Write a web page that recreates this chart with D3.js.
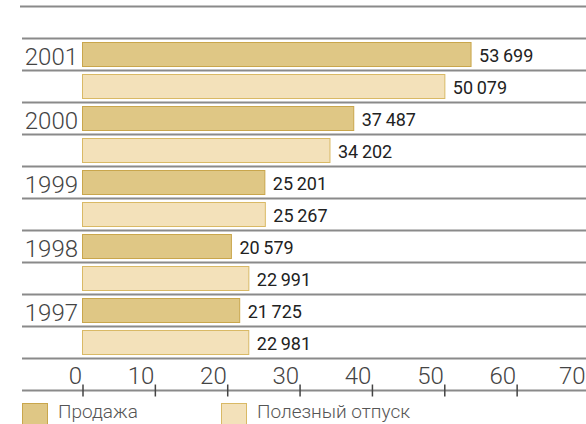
<!DOCTYPE html>
<html><head><meta charset="utf-8">
<script src="https://cdn.jsdelivr.net/npm/d3@7"></script>
<style>
html,body{margin:0;padding:0;background:#fff;}
svg{display:block;}
text{font-family:Roboto,"Liberation Sans",sans-serif;}
</style></head>
<body><svg id="chart" width="586" height="424"></svg>
<script>
const years = ["2001","2000","1999","1998","1997"];
const seriesNames = ["Продажа","Полезный отпуск"];
const sales = [53699, 37487, 25201, 20579, 21725];
const useful = [50079, 34202, 25267, 22991, 22981];
const tickValues = [0,10,20,30,40,50,60,70];

const fills = ["#dfc785", "#f3e1ba"];
const strokes = ["#c9a64c", "#d9b965"];

const svg = d3.select("#chart");
const x = d3.scaleLinear().domain([0, 70]).range([82.5, 589]);
const yGroup = d3.scaleBand().domain(years).range([38.5, 358.5]);
const yInner = d3.scaleBand().domain(seriesNames).range([0, yGroup.bandwidth()]);

const rows = [];
years.forEach((yr, i) => {
  rows.push({year: yr, s: 0, v: sales[i]});
  rows.push({year: yr, s: 1, v: useful[i]});
});

// top line
svg.append("line").attr("x1", 20).attr("x2", 586).attr("y1", 6.5).attr("y2", 6.5)
  .attr("stroke", "#8a8a8a").attr("stroke-width", 2);

// separator lines
const lineYs = rows.map(r => yGroup(r.year) + yInner(seriesNames[r.s])).concat([358.5]);
svg.selectAll("line.sep").data(lineYs).join("line").attr("class","sep")
  .attr("x1", 22).attr("x2", 586).attr("y1", d => d).attr("y2", d => d)
  .attr("stroke", "#8a8a8a").attr("stroke-width", 2);

// bars
svg.selectAll("rect.bar").data(rows).join("rect").attr("class","bar")
  .attr("x", x(0))
  .attr("y", d => yGroup(d.year) + yInner(seriesNames[d.s]) + 4)
  .attr("width", d => x(d.v / 1000) - x(0))
  .attr("height", 24)
  .attr("fill", d => fills[d.s])
  .attr("stroke", d => strokes[d.s])
  .attr("stroke-width", 1);

// value labels
const fmt = v => { const s = String(v); return s.slice(0, s.length-3) + "\u2009" + s.slice(-3); };
svg.selectAll("text.val").data(rows).join("text").attr("class","val")
  .attr("x", d => x(d.v / 1000) + 8)
  .attr("y", d => yGroup(d.year) + yInner(seriesNames[d.s]) + 23.5)
  .attr("font-size", 18).attr("fill", "#222")
  .text(d => fmt(d.v));

// year labels
svg.selectAll("text.yr").data(years).join("text").attr("class","yr")
  .attr("x", 78).attr("y", d => yGroup(d) + 26.5)
  .attr("text-anchor", "end").attr("font-size", 24).attr("font-weight", 300)
  .attr("fill", "#444").text(d => d);

// axis
const axisG = svg.append("g").attr("transform", "translate(0,390.5)");
axisG.append("line").attr("x1", 22).attr("x2", 586).attr("y1", 0).attr("y2", 0)
  .attr("stroke", "#8a8a8a").attr("stroke-width", 2);
const axis = d3.axisBottom(x).tickValues(tickValues).tickSize(6).tickFormat(d3.format("d"));
const ag = axisG.append("g").call(axis);
ag.select(".domain").remove();
ag.selectAll(".tick line").attr("y1", -6).attr("y2", 6).attr("stroke", "#444").attr("stroke-width", 1.5);
ag.selectAll(".tick text").attr("y", -6.5).attr("dy", 0)
  .attr("x", d => Math.min(-1, 585 - x(d)))
  .attr("text-anchor", "end").attr("font-size", 24).attr("font-weight", 300)
  .attr("fill", "#444").attr("font-family", "Roboto, 'Liberation Sans', sans-serif");

// legend
const legX = [22, 221];
const leg = svg.selectAll("g.leg").data(seriesNames).join("g").attr("class","leg")
  .attr("transform", (d,i) => `translate(${legX[i]},403.5)`);
leg.append("rect").attr("x", 0.5).attr("y", 0).attr("width", 25).attr("height", 25)
  .attr("fill", (d,i) => fills[i]).attr("stroke", (d,i) => strokes[i]).attr("stroke-width", 1);
leg.append("text").attr("x", 36).attr("y", 14).attr("font-size", 19).attr("font-weight", 300)
  .attr("fill", "#555").text(d => d);
</script></body></html>
